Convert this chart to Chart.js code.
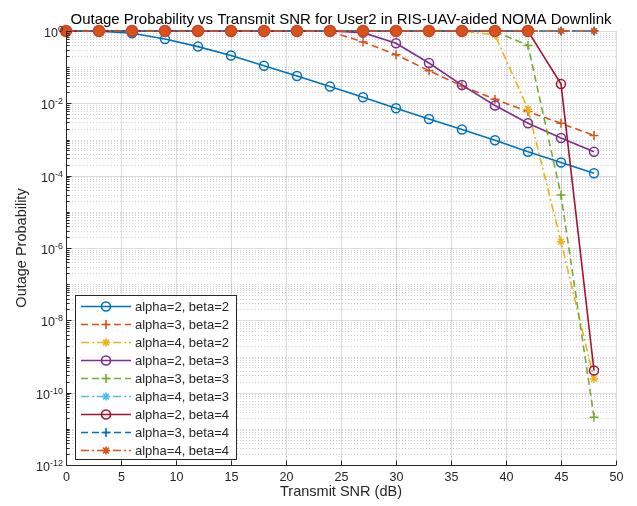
<!DOCTYPE html>
<html>
<head>
<meta charset="utf-8">
<title>Outage Probability vs Transmit SNR</title>
<script src="https://cdn.jsdelivr.net/npm/chart.js@4.4.0/dist/chart.umd.min.js"></script>
<style>
  html, body { margin: 0; padding: 0; background: #fff; }
  #wrap { width: 637px; height: 506px; }
</style>
</head>
<body>
<div id="wrap"><canvas id="outage" width="637" height="506"></canvas></div>
<script>
'use strict';

// ── Simulated outage probability, User2, RIS-UAV-aided NOMA downlink ──────────

var snrDb  = [0, 3, 6, 9, 12, 15, 18, 21, 24, 27, 30, 33, 36, 39, 42, 45, 48];

var pA2B2 = [1, 0.98, 0.87, 0.6, 0.37, 0.21, 0.11, 0.057, 0.029, 0.0148, 0.0073, 0.0037, 0.0019, 9.5e-4, 4.6e-4, 2.3e-4, 1.17e-4];
var pA3B2 = [1, 1, 1, 1, 1, 1, 1, 1, 0.97, 0.5, 0.22, 0.08, 0.03, 0.013, 0.0059, 0.0028, 0.0013];
var pA4B2 = [1, 1, 1, 1, 1, 1, 1, 1, 1, 1, 1, 1, 1, 0.78, 0.0069, 1.5e-6, 2.4e-10];
var pA2B3 = [1, 1, 1, 1, 1, 1, 1, 1, 1, 0.9, 0.46, 0.13, 0.032, 0.0087, 0.0028, 0.0011, 4.6e-4];
var pA3B3 = [1, 1, 1, 1, 1, 1, 1, 1, 1, 1, 1, 1, 1, 0.97, 0.4, 2.9e-5, 2.1e-11];
var pA4B3 = [1, 1, 1, 1, 1, 1, 1, 1, 1, 1, 1, 1, 1, 1, 1, 1, 1];
var pA2B4 = [1, 1, 1, 1, 1, 1, 1, 1, 1, 1, 1, 1, 1, 1, 1, 0.034, 4.1e-10];
var pA3B4 = [1, 1, 1, 1, 1, 1, 1, 1, 1, 1, 1, 1, 1, 1, 1, 1, 1];
var pA4B4 = [1, 1, 1, 1, 1, 1, 1, 1, 1, 1, 1, 1, 1, 1, 1, 1, 1];

var xTicks      = [0, 5, 10, 15, 20, 25, 30, 35, 40, 45, 50];
var yTickPowers = [0, -2, -4, -6, -8, -10, -12];

// ── Line styles (MATLAB default colour order) ─────────────────────────────────

var SOLID   = [];
var DASHED  = [7, 4];
var DASHDOT = [8, 3, 2, 3];

var SERIES = [
  { label: 'alpha=2, beta=2', data: pA2B2, color: '#0072BD', dash: SOLID,   marker: 'circle' },
  { label: 'alpha=3, beta=2', data: pA3B2, color: '#D95319', dash: DASHED,  marker: 'cross'  },
  { label: 'alpha=4, beta=2', data: pA4B2, color: '#EDB120', dash: DASHDOT, marker: 'star'   },
  { label: 'alpha=2, beta=3', data: pA2B3, color: '#7E2F8E', dash: SOLID,   marker: 'circle' },
  { label: 'alpha=3, beta=3', data: pA3B3, color: '#77AC30', dash: DASHED,  marker: 'cross'  },
  { label: 'alpha=4, beta=3', data: pA4B3, color: '#4DBEEE', dash: DASHDOT, marker: 'star'   },
  { label: 'alpha=2, beta=4', data: pA2B4, color: '#A2142F', dash: SOLID,   marker: 'circle' },
  { label: 'alpha=3, beta=4', data: pA3B4, color: '#0072BD', dash: DASHED,  marker: 'cross'  },
  { label: 'alpha=4, beta=4', data: pA4B4, color: '#D95319', dash: DASHDOT, marker: 'star'   }
];

var FONT    = '"Liberation Sans", Arial, Helvetica, sans-serif';
var INK     = '#262626';
var LINE_W  = 1.6;
var MARK_R  = 4.5;

function markerFill(s) {
  return s.marker === 'circle' ? 'rgba(255,255,255,0)' : s.color;
}

var datasets = SERIES.map(function (s, n) {
  var ds = {
    label: s.label,
    data: snrDb.map(function (x, i) { return { x: x, y: s.data[i] }; }),
    order: SERIES.length - n,          // later series paint over earlier ones
    borderColor: s.color,
    borderWidth: LINE_W,
    borderDash: s.dash,
    backgroundColor: s.color,
    pointStyle: s.marker,
    pointRadius: s.marker === 'star' ? 4 : MARK_R,
    pointBorderWidth: 1.5,
    pointBorderColor: s.color,
    pointBackgroundColor: markerFill(s),
    fill: false,
    tension: 0,
    clip: false
  };
  // last series sits on the top edge: filled discs while saturated, stars after
  if (n === SERIES.length - 1) {
    ds.pointStyle = function (c) { return c.dataIndex <= 14 ? 'circle' : 'star'; };
    ds.pointRadius = function (c) { return c.dataIndex <= 14 ? 5.5 : 4; };
    ds.pointBorderColor = function (c) { return c.dataIndex <= 14 ? '#C8452A' : s.color; };
  }
  return ds;
});

// ── Axes, grid, labels and legend in MATLAB style ─────────────────────────────

function line(ctx, x1, y1, x2, y2) {
  ctx.beginPath();
  ctx.moveTo(x1, y1);
  ctx.lineTo(x2, y2);
  ctx.stroke();
}

var matlabAxes = {
  id: 'matlabAxes',

  beforeDatasetsDraw: function (chart) {
    var ctx = chart.ctx, a = chart.chartArea;
    var xs = chart.scales.x, ys = chart.scales.y;
    ctx.save();
    ctx.lineWidth = 1;

    // minor horizontal grid: every m·10^k except the labelled decades
    ctx.strokeStyle = 'rgba(38,38,38,0.22)';
    ctx.setLineDash([1, 2]);
    for (var k = 0; k >= -12; k--) {
      for (var m = 1; m <= 9; m++) {
        var v = m * Math.pow(10, k);
        if (v > 1 || (m === 1 && k % 2 === 0)) continue;
        var py = Math.round(ys.getPixelForValue(v)) + 0.5;
        line(ctx, a.left, py, a.right, py);
      }
    }

    // major grid
    ctx.setLineDash([]);
    ctx.strokeStyle = 'rgba(38,38,38,0.16)';
    yTickPowers.forEach(function (p) {
      var py = Math.round(ys.getPixelForValue(Math.pow(10, p))) + 0.5;
      line(ctx, a.left, py, a.right, py);
    });
    xTicks.forEach(function (t) {
      var px = Math.round(xs.getPixelForValue(t)) + 0.5;
      line(ctx, px, a.top, px, a.bottom);
    });
    ctx.restore();
  },

  afterDatasetsDraw: function (chart) {
    var ctx = chart.ctx, a = chart.chartArea;
    var xs = chart.scales.x, ys = chart.scales.y;
    var left = Math.round(a.left) + 0.5, bottom = Math.round(a.bottom) + 0.5;
    ctx.save();
    ctx.strokeStyle = INK;
    ctx.fillStyle = INK;
    ctx.lineWidth = 1;
    ctx.setLineDash([]);

    // axis lines
    line(ctx, left, a.top, left, bottom);
    line(ctx, left, bottom, a.right, bottom);

    // x ticks + labels
    ctx.font = '12.5px ' + FONT;
    ctx.textAlign = 'center';
    ctx.textBaseline = 'middle';
    xTicks.forEach(function (t) {
      var px = Math.round(xs.getPixelForValue(t)) + 0.5;
      line(ctx, px, bottom, px, bottom - 5);
      ctx.fillText(String(t), px, 478);
    });

    // y minor ticks
    for (var k = 0; k >= -12; k--) {
      for (var m = 2; m <= 9; m++) {
        var v = m * Math.pow(10, k);
        if (v > 1 || v < 1e-12) continue;
        var py = Math.round(ys.getPixelForValue(v)) + 0.5;
        line(ctx, left, py, left + 3, py);
      }
      if (k % 2 !== 0) {
        var pk = Math.round(ys.getPixelForValue(Math.pow(10, k))) + 0.5;
        line(ctx, left, pk, left + 3, pk);
      }
    }

    // y major ticks + 10^n labels
    ctx.textBaseline = 'alphabetic';
    yTickPowers.forEach(function (p) {
      var py = Math.round(ys.getPixelForValue(Math.pow(10, p))) + 0.5;
      line(ctx, left, py, left + 5, py);
      var exp = String(p);
      ctx.font = '9px ' + FONT;
      var ew = ctx.measureText(exp).width;
      ctx.textAlign = 'left';
      ctx.fillText(exp, 63 - ew, py + 0.5);
      ctx.font = '12.5px ' + FONT;
      ctx.textAlign = 'right';
      ctx.fillText('10', 63 - ew, py + 5.5);
    });

    // axis titles
    ctx.font = '14.5px ' + FONT;
    ctx.textAlign = 'center';
    ctx.textBaseline = 'middle';
    ctx.fillText('Transmit SNR (dB)', (a.left + a.right) / 2, 492);
    ctx.save();
    ctx.translate(22, (a.top + a.bottom) / 2);
    ctx.rotate(-Math.PI / 2);
    ctx.fillText('Outage Probability', 0, 0);
    ctx.restore();

    // title
    ctx.fillStyle = '#000';
    ctx.font = '15px ' + FONT;
    ctx.textBaseline = 'alphabetic';
    ctx.fillText('Outage Probability vs Transmit SNR for User2 in RIS-UAV-aided NOMA Downlink',
      (a.left + a.right) / 2, 24);

    // legend box
    var bx = 75.5, by = 295.5, bw = 161, bh = 164;
    ctx.fillStyle = '#fff';
    ctx.fillRect(bx, by, bw, bh);
    ctx.strokeStyle = INK;
    ctx.strokeRect(bx, by, bw, bh);

    ctx.font = '13px ' + FONT;
    ctx.textAlign = 'left';
    ctx.textBaseline = 'middle';
    SERIES.forEach(function (s, i) {
      var ry = 306.5 + i * 18;
      ctx.strokeStyle = s.color;
      ctx.lineWidth = LINE_W;
      ctx.setLineDash(s.dash);
      line(ctx, 81, ry, 131, ry);
      ctx.setLineDash([]);
      ctx.fillStyle = markerFill(s);
      Chart.helpers.drawPoint(ctx, {
        pointStyle: s.marker,
        radius: s.marker === 'star' ? 4 : MARK_R,
        rotation: 0,
        borderWidth: 1.5
      }, 106, ry);
      ctx.fillStyle = INK;
      ctx.fillText(s.label, 135, ry + 1);
    });

    ctx.restore();
  }
};

new Chart(document.getElementById('outage'), {
  type: 'line',
  data: { datasets: datasets },
  options: {
    responsive: false,
    animation: false,
    devicePixelRatio: 1,
    layout: { padding: { left: 66, right: 21, top: 31, bottom: 41 } },
    scales: {
      x: { type: 'linear', min: 0, max: 50, display: false },
      y: { type: 'logarithmic', min: 1e-12, max: 1, display: false }
    },
    plugins: {
      legend: { display: false },
      tooltip: { enabled: false },
      title: { display: false }
    }
  },
  plugins: [matlabAxes]
});
</script>
</body>
</html>
